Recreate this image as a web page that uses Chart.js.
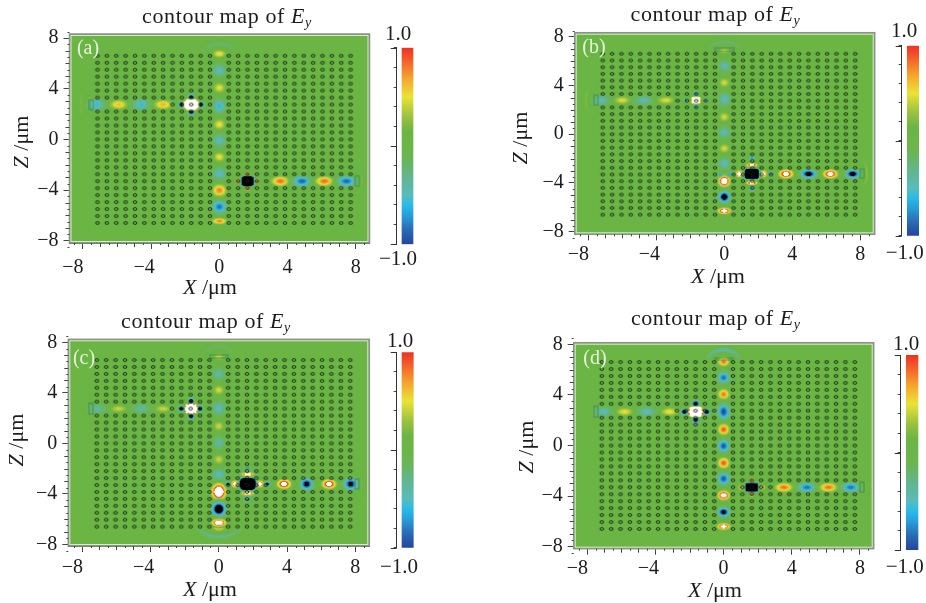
<!DOCTYPE html>
<html>
<head>
<meta charset="utf-8">
<style>
  html, body { margin: 0; padding: 0; background: #fff; }
  #page { position: relative; width: 926px; height: 603px; overflow: hidden; font-family: "Liberation Serif", serif; color: #1c1c1c; }
  canvas { position: absolute; left: 0; top: 0; filter: blur(0.3px); }
  .label { position: absolute; transform: translate(-50%, -50%); white-space: nowrap; line-height: 1; }
  .title { font-size: 22px; letter-spacing: 0.6px; }
  .axis { font-size: 22px; }
  .axisz { transform: translate(-50%, -50%) rotate(-90deg); }
  .range { font-size: 21px; }
  .tag { font-size: 20px; color: #e9f3df; }
  sub { font-size: 14px; line-height: 0; vertical-align: -4px; }
</style>
</head>
<body>
<div id="page"></div>
<script src="https://cdn.jsdelivr.net/npm/chart.js@4/dist/chart.umd.min.js"></script>
<script>
// air hole lattice, um
const holeColumns = [-7.15, -6.6, -6.05, -5.5, -4.95, -4.4, -3.85, -3.3, -2.75, -2.2, -1.65, -1.1, -0.55, 0.55, 1.1, 1.65, 2.2, 2.75, 3.3, 3.85, 4.4, 4.95, 5.5, 6.05, 6.6, 7.15, 7.7];
const holeRows = [6.6, 6.05, 5.5, 4.95, 4.4, 3.85, 3.3, 2.75, 2.2, 1.65, 1.1, 0.55, 0, -0.55, -1.1, -1.65, -2.2, -2.75, -3.3, -3.85, -4.4, -4.95, -5.5, -6.05, -6.6];

const majorTicks = [-8, -4, 0, 4, 8];
const axisOneTicks = [-7, -6, -5, -3, -2, -1, 1, 2, 3, 5, 6, 7];
const axisHalfTicks = [-8.5, -7.5, -6.5, -5.5, -4.5, -3.5, -2.5, -1.5, -0.5, 0.5, 1.5, 2.5, 3.5, 4.5, 5.5, 6.5, 7.5, 8.5];

// colour scale of Ey
const scaleValues = [-1, -0.85, -0.7, -0.6, -0.5, -0.3, -0.1, 0.15, 0.3, 0.5, 0.7, 0.85, 1];
const scaleColors = ['#24459c', '#2a6cb3', '#27a0dc', '#2bbbe8', '#58bcbc', '#63b58a', '#6bb54e', '#6cb543', '#9cc23f', '#e9e336', '#f6a02c', '#f3662a', '#ee3124'];

// panel (a) field spots
const aSpotX = [-7.18, -5.9, -4.58, -3.3, -2.2, -1.1, -1.65, -1.65, -1.65, 0, 0, 0, 0, 0, 0, 0, 0, 0, 0, 0, 1.08, 2.21, 1.66, 1.66, 1.66, 3.58, 4.85, 6.16, 7.46];
const aSpotZ = [2.75, 2.75, 2.75, 2.75, 2.75, 2.75, 3.3, 2.2, 2.75, 6.76, 5.45, 4.08, 2.63, 1.18, -0.08, -1.39, -2.71, -4.03, -5.32, -6.45, -3.3, -3.3, -2.74, -3.89, -3.3, -3.3, -3.3, -3.3, -3.3];
const aSpotAmp = [-0.6, 0.62, -0.6, 0.65, -1.6, -1.6, -1.6, -1.6, 6, 0.55, -0.52, 0.5, -0.62, 0.52, -0.5, 0.5, -0.53, 0.8, -0.85, 0.8, 1.1, 1.1, 1.1, 1.1, -6, 0.85, -0.9, 0.85, -0.9];
const aSpotRx = [0.36, 0.36, 0.36, 0.36, 0.12, 0.12, 0.12, 0.12, 0.34, 0.26, 0.26, 0.24, 0.24, 0.24, 0.26, 0.24, 0.27, 0.27, 0.27, 0.28, 0.08, 0.08, 0.09, 0.09, 0.31, 0.34, 0.34, 0.34, 0.34];
const aSpotRz = [0.24, 0.22, 0.24, 0.22, 0.12, 0.12, 0.13, 0.13, 0.34, 0.18, 0.28, 0.24, 0.32, 0.26, 0.3, 0.24, 0.28, 0.28, 0.28, 0.14, 0.08, 0.08, 0.08, 0.08, 0.33, 0.22, 0.22, 0.22, 0.22];
const aArcX = [0, -7.3, 7.8];
const aArcZ = [6.7, 2.75, -3.3];
const aArcAmp = [-0.25, 0.2, 0.2];
const aArcRx = [0.92, 0.85, 0.6];
const aArcRz = [0.85, 1.4, 1];
const aArcDir = [90, 180, 0];
const aPortX = [-7.5, 8.1];
const aPortZ = [2.75, -3.3];
const aPortW = [0.2, 0.2];
const aPortH = [0.75, 0.75];

// panel (b)
const bSpotX = [-7.2, -6, -4.75, -3.43, -2.25, -1.1, -1.67, -1.67, -1.67, 0, 0, 0, 0, 0, 0, 0, 0, 0, 0, 0, -0.25, 0.25, 0.55, 2.75, 1.62, 1.62, 0.88, 2.3, 1.62, 1.62, 1.62, 3.63, 4.96, 6.24, 7.55];
const bSpotZ = [2.79, 2.79, 2.79, 2.79, 2.79, 2.79, 3.35, 2.25, 2.79, 6.88, 5.6, 4.23, 2.87, 1.42, 0.14, -1.17, -2.4, -3.85, -5.14, -6.28, -3.3, -3.3, -3.25, -3.25, -1.95, -4.5, -3.25, -3.25, -2.54, -3.99, -3.25, -3.25, -3.25, -3.25, -3.25];
const bSpotAmp = [-0.5, 0.47, -0.48, 0.47, -0.9, -0.9, -0.9, -0.9, 3, 0.4, -0.48, 0.45, -0.5, 0.45, -0.47, 0.45, -0.5, 1.6, -1.3, 1.5, -0.8, -0.8, -0.9, -0.9, -0.8, -0.8, 1.4, 1.4, 1.4, 1.4, -6, 1.3, -1.25, 1.3, -1.25];
const bSpotRx = [0.36, 0.36, 0.36, 0.36, 0.08, 0.08, 0.08, 0.08, 0.24, 0.26, 0.24, 0.22, 0.24, 0.22, 0.24, 0.22, 0.24, 0.2, 0.21, 0.22, 0.08, 0.08, 0.08, 0.08, 0.1, 0.1, 0.12, 0.12, 0.19, 0.19, 0.36, 0.26, 0.28, 0.26, 0.26];
const bSpotRz = [0.22, 0.2, 0.22, 0.2, 0.08, 0.08, 0.09, 0.09, 0.24, 0.16, 0.26, 0.24, 0.32, 0.24, 0.28, 0.24, 0.28, 0.24, 0.26, 0.13, 0.08, 0.08, 0.08, 0.08, 0.1, 0.1, 0.14, 0.14, 0.08, 0.08, 0.37, 0.19, 0.19, 0.19, 0.19];
const bArcX = [0, -7.4, 7.9];
const bArcZ = [6.7, 2.79, -3.25];
const bArcAmp = [-0.25, 0.22, 0.28];
const bArcRx = [1, 0.75, 0.5];
const bArcRz = [0.87, 1.3, 1.2];
const bArcDir = [90, 180, 0];
const bPortX = [-7.55, 8.12, 0];
const bPortZ = [2.79, -3.25, 6.92];
const bPortW = [0.2, 0.2, 1.1];
const bPortH = [0.8, 0.7, 0.18];

// panel (c)
const cSpotX = [-7.1, -5.87, -4.54, -3.27, -2.2, -1.1, -1.62, -1.62, -1.62, 0, 0, 0, 0, 0, 0, 0, 0, 0, 0, 0, 0, 1.69, 1.69, 0.55, 2.84, 1.69, 1.69, 0.94, 2.4, 1.69, 1.69, 1.69, 3.82, 5.15, 6.46, 7.73];
const cSpotZ = [2.74, 2.74, 2.74, 2.74, 2.74, 2.74, 3.35, 2.15, 2.74, 6.86, 5.49, 4.22, 2.77, 1.37, 0.05, -1.27, -2.5, -6.65, -3.83, -5.2, -6.28, -2.06, -4.4, -3.22, -3.22, -2.45, -3.96, -3.22, -3.22, -2.45, -3.96, -3.22, -3.22, -3.22, -3.22, -3.22];
const cSpotAmp = [-0.42, 0.42, -0.42, 0.42, -1.6, -1.6, -1.6, -1.6, 6, 0.42, -0.45, 0.45, -0.5, 0.42, -0.45, 0.42, -0.52, 0.7, 1.9, -1.7, 1.6, -1.6, -1.6, -1.6, -1.6, -0.7, -0.7, 1.5, 1.5, 1.5, 1.5, -6, 1.3, -1.25, 1.3, -1.2];
const cSpotRx = [0.36, 0.36, 0.36, 0.36, 0.11, 0.11, 0.11, 0.11, 0.28, 0.26, 0.24, 0.22, 0.25, 0.22, 0.24, 0.22, 0.25, 0.24, 0.24, 0.23, 0.24, 0.13, 0.13, 0.09, 0.09, 0.3, 0.3, 0.12, 0.12, 0.21, 0.21, 0.39, 0.25, 0.22, 0.25, 0.24];
const cSpotRz = [0.2, 0.18, 0.2, 0.18, 0.11, 0.11, 0.12, 0.12, 0.31, 0.16, 0.26, 0.24, 0.32, 0.24, 0.27, 0.24, 0.28, 0.16, 0.32, 0.28, 0.15, 0.1, 0.1, 0.09, 0.09, 0.2, 0.2, 0.14, 0.14, 0.08, 0.08, 0.4, 0.2, 0.24, 0.2, 0.24];
const cArcX = [0, 0, -7.4, 7.9];
const cArcZ = [6.7, -6.3, 2.74, -3.22];
const cArcAmp = [-0.2, -0.3, 0.12, 0.2];
const cArcRx = [0.95, 1.3, 0.7, 0.5];
const cArcRz = [0.95, 1.1, 1.2, 1.1];
const cArcDir = [90, 270, 180, 0];
const cPortX = [-7.5, 8.1, 0];
const cPortZ = [2.74, -3.22, 6.88];
const cPortW = [0.2, 0.2, 1];
const cPortH = [0.8, 0.75, 0.18];

// panel (d)
const dSpotX = [-7.03, -5.81, -4.5, -3.17, -2.3, -1.0, -1.64, -1.64, -1.64, 0, 0, 0, 0, 0, 0, 0, 0, 0, 0, 0, 1.0, 2.3, 1.65, 1.65, 1.65, 3.54, 4.89, 6.16, 7.46];
const dSpotZ = [2.67, 2.67, 2.67, 2.67, 2.67, 2.67, 3.3, 2.05, 2.67, 6.64, 5.37, 4.05, 2.67, 1.27, -0.03, -1.38, -2.62, -3.94, -5.26, -6.4, -3.31, -3.31, -2.72, -3.9, -3.31, -3.31, -3.31, -3.31, -3.31];
const dSpotAmp = [-0.5, 0.5, -0.5, 0.52, -1.7, -1.7, -1.7, -1.7, 6, 0.85, -0.88, 0.82, -1, 0.9, -0.95, 0.9, -0.95, 1.4, -1.25, 1.4, 1.1, 1.1, 1.1, 1.1, -6, 0.85, -0.85, 0.85, -0.85];
const dSpotRx = [0.36, 0.36, 0.36, 0.36, 0.12, 0.12, 0.12, 0.12, 0.33, 0.22, 0.22, 0.22, 0.22, 0.22, 0.22, 0.22, 0.22, 0.21, 0.21, 0.22, 0.08, 0.08, 0.08, 0.08, 0.32, 0.34, 0.34, 0.34, 0.34];
const dSpotRz = [0.22, 0.2, 0.22, 0.2, 0.12, 0.12, 0.14, 0.14, 0.33, 0.21, 0.24, 0.24, 0.34, 0.25, 0.27, 0.25, 0.27, 0.19, 0.2, 0.13, 0.08, 0.08, 0.08, 0.08, 0.3, 0.2, 0.2, 0.2, 0.2];
const dArcX = [0, -7.4, 7.9];
const dArcZ = [6.6, 2.67, -3.31];
const dArcAmp = [-0.45, 0.15, 0.2];
const dArcRx = [1, 0.6, 0.5];
const dArcRz = [0.95, 1.1, 1.1];
const dArcDir = [90, 180, 0];
const dPortX = [-7.5, 8.12, 0];
const dPortZ = [2.67, -3.31, 6.85];
const dPortW = [0.2, 0.2, 1];
const dPortH = [0.8, 0.75, 0.14];

const panels = [
  { tag: '(a)', spots: [aSpotX, aSpotZ, aSpotAmp, aSpotRx, aSpotRz], arcs: [aArcX, aArcZ, aArcAmp, aArcRx, aArcRz, aArcDir], ports: [aPortX, aPortZ, aPortW, aPortH],
    box: [69.5, 34, 369.5, 243], limits: [-8.79, 8.81, -8.18, 8.32], bar: [402, 413, 396.7, 47.7, 244.3], tickPad: 7,
    title: [227, 16], xLabel: [210, 287], zLabel: [21, 142], high: [398, 33], low: [398, 258], tagAt: [88, 47] },
  { tag: '(b)', spots: [bSpotX, bSpotZ, bSpotAmp, bSpotRx, bSpotRz], arcs: [bArcX, bArcZ, bArcAmp, bArcRx, bArcRz, bArcDir], ports: [bPortX, bPortZ, bPortW, bPortH],
    box: [574.7, 32.7, 874.7, 234.3], limits: [-8.8, 8.85, -8.21, 8.33], bar: [907.3, 918.7, 901.7, 45.7, 235.7], tickPad: 2.5,
    title: [715.5, 14], xLabel: [718, 276], zLabel: [520, 138], high: [904, 30], low: [904.7, 252], tagAt: [594, 46] },
  { tag: '(c)', spots: [cSpotX, cSpotZ, cSpotAmp, cSpotRx, cSpotRz], arcs: [cArcX, cArcZ, cArcAmp, cArcRx, cArcRz, cArcDir], ports: [cPortX, cPortZ, cPortW, cPortH],
    box: [68.3, 339.3, 369.3, 546], limits: [-8.82, 8.82, -8.13, 8.24], bar: [402, 413.3, 396.7, 352.3, 547.7], tickPad: 4,
    title: [206, 320.7], xLabel: [210, 589], zLabel: [16, 440], high: [400, 340], low: [399, 566], tagAt: [84, 356.7] },
  { tag: '(d)', spots: [dSpotX, dSpotZ, dSpotAmp, dSpotRx, dSpotRz], arcs: [dArcX, dArcZ, dArcAmp, dArcRx, dArcRz, dArcDir], ports: [dPortX, dPortZ, dPortW, dPortH],
    box: [573.7, 342.7, 873.7, 548.7], limits: [-8.8, 8.81, -8.16, 8.13], bar: [906.3, 918, 900.7, 355, 550], tickPad: 2.5,
    title: [715.8, 318], xLabel: [715, 590], zLabel: [525.7, 447], high: [906, 342.7], low: [904.7, 566], tagAt: [595, 356.7] },
];

const W = 926;
const H = 603;
// room kept for the tick labels, the library clips them to the scale box
const X_BAND = 34;
const Y_BAND = 50;
const page = document.getElementById('page');
const rgbStops = scaleColors.map((c) => [1, 3, 5].map((i) => parseInt(c.substr(i, 2), 16)));

// over the range the plot saturates: white above 1, black below -1
function fieldColor(v) {
  if (v > 1) return [255, 255, 255];
  if (v < -1) return [0, 0, 0];
  let i = 0;
  while (i < scaleValues.length - 2 && v > scaleValues[i + 1]) i++;
  const t = (v - scaleValues[i]) / (scaleValues[i + 1] - scaleValues[i]);
  return rgbStops[i].map((c, k) => c + (rgbStops[i + 1][k] - c) * t);
}

function pixelsPerUm(chart) {
  const { x, y } = chart.scales;
  return [Math.abs(x.getPixelForValue(1) - x.getPixelForValue(0)), Math.abs(y.getPixelForValue(1) - y.getPixelForValue(0))];
}

function paintSprite(halfW, halfH, valueAt) {
  const sprite = document.createElement('canvas');
  sprite.width = halfW * 2;
  sprite.height = halfH * 2;
  const c = sprite.getContext('2d');
  const img = c.createImageData(sprite.width, sprite.height);
  for (let j = 0; j < sprite.height; j++) {
    for (let i = 0; i < sprite.width; i++) {
      const v = valueAt(i + 0.5 - halfW, halfH - j - 0.5);
      const rgb = fieldColor(v);
      const p = (j * sprite.width + i) * 4;
      img.data[p] = rgb[0];
      img.data[p + 1] = rgb[1];
      img.data[p + 2] = rgb[2];
      img.data[p + 3] = 255 * Math.min(1, Math.abs(v) / 0.1);
    }
  }
  c.putImageData(img, 0, 0);
  return sprite;
}

function spotSprite(chart, amp, rx, rz) {
  const [sx, sz] = pixelsPerUm(chart);
  const strong = Math.abs(amp) >= 3;
  const spreadX = strong ? 1 : 1.4;
  const spreadZ = strong ? 1 : 1.6;
  const reach = Math.sqrt(Math.log(Math.abs(amp) / 0.02)) + 0.3;
  return paintSprite(Math.ceil(reach * rx * spreadX * sx), Math.ceil(reach * rz * spreadZ * sz), (px, pz) => {
    const dx = px / (rx * spreadX * sx);
    const dz = pz / (rz * spreadZ * sz);
    // the cavity cores are boxes, not round
    const r = strong ? dx ** 4 + dz ** 4 : dx * dx + dz * dz;
    return amp * Math.exp(-r);
  });
}

function arcSprite(chart, amp, rx, rz, dir) {
  const [sx, sz] = pixelsPerUm(chart);
  const aim = (dir * Math.PI) / 180;
  return paintSprite(Math.ceil(1.5 * rx * sx), Math.ceil(1.5 * rz * sz), (px, pz) => {
    const dx = px / (rx * sx);
    const dz = pz / (rz * sz);
    const r = Math.sqrt(dx * dx + dz * dz);
    const weight = Math.max(0, Math.cos(Math.atan2(dz, dx) - aim));
    return amp * weight * Math.exp(-(((r - 1) / 0.16) ** 2));
  });
}

function holeSprite(chart) {
  const [sx, sz] = pixelsPerUm(chart);
  const sprite = document.createElement('canvas');
  sprite.width = 8;
  sprite.height = 6;
  const c = sprite.getContext('2d');
  c.strokeStyle = 'rgba(20,32,20,0.95)';
  c.lineWidth = 0.9;
  c.beginPath();
  c.ellipse(4, 3, 0.11 * sx, 0.11 * sz, 0, 0, Math.PI * 2);
  c.stroke();
  return sprite;
}

function portSprite(chart, w, h) {
  const [sx, sz] = pixelsPerUm(chart);
  const sprite = document.createElement('canvas');
  sprite.width = Math.ceil(w * sx) + 2;
  sprite.height = Math.ceil(h * sz) + 2;
  const c = sprite.getContext('2d');
  c.strokeStyle = 'rgba(45,125,100,0.65)';
  c.lineWidth = 1;
  c.strokeRect(1, 1, sprite.width - 2, sprite.height - 2);
  return sprite;
}

// options get resolved once before the scales have a size, so wait for that
function cached(store, key, ctx, build) {
  if (ctx.dataIndex === undefined) return 'circle';
  const [sx, sz] = pixelsPerUm(ctx.chart);
  if (!(sx > 0) || !(sz > 0)) return 'circle';
  if (!store[key]) store[key] = build();
  return store[key];
}

function zip(xs, zs) {
  return xs.map((x, i) => ({ x: x, y: zs[i] }));
}

function holePoints() {
  const pts = [];
  holeRows.forEach((z) => {
    holeColumns.forEach((x) => {
      // the two waveguide arms have no holes
      if (z === 2.75 && x <= -3.3) return;
      if (z === -3.3 && x >= 3.3) return;
      pts.push({ x: x, y: z });
    });
  });
  return pts;
}

const minorTicks = {
  id: 'minorTicks',
  afterDraw(chart, args, opts) {
    const c = chart.ctx;
    const area = chart.chartArea;
    c.save();
    c.strokeStyle = '#444';
    c.lineWidth = 1;
    (opts.sets || []).forEach(([values, len]) => {
      values.forEach((v) => {
        const px = Math.round(chart.scales.x.getPixelForValue(v)) + 0.5;
        const py = Math.round(chart.scales.y.getPixelForValue(v)) + 0.5;
        c.beginPath();
        c.moveTo(px, area.bottom);
        c.lineTo(px, area.bottom + len);
        c.moveTo(area.left, py);
        c.lineTo(area.left - len, py);
        c.stroke();
      });
    });
    c.restore();
  },
};

const plotFrame = {
  id: 'plotFrame',
  beforeDatasetsDraw(chart) {
    const a = chart.chartArea;
    chart.ctx.fillStyle = '#6ab544';
    chart.ctx.fillRect(a.left, a.top, a.width, a.height);
  },
  afterDatasetsDraw(chart) {
    const a = chart.ctx;
    const r = chart.chartArea;
    a.strokeStyle = '#8f8f8f';
    a.lineWidth = 1.5;
    a.strokeRect(r.left, r.top, r.width, r.height);
    a.strokeStyle = 'rgba(255,255,255,0.75)';
    a.lineWidth = 1;
    a.strokeRect(r.left + 1.5, r.top + 1.5, r.width - 3, r.height - 3);
  },
};

function tickLabel(v) {
  return v < 0 ? '\u2212' + Math.abs(v) : String(v);
}

// negative x labels sit to the left of their tick in the original
function xTickLabel(v) {
  if (v === -8) return tickLabel(v) + '\u2002\u2002';
  if (v === -4) return tickLabel(v) + '\u2002\u2009';
  return tickLabel(v);
}

function addCanvas() {
  const canvas = document.createElement('canvas');
  canvas.width = W;
  canvas.height = H;
  page.appendChild(canvas);
  return canvas;
}

function drawPanel(panel) {
  const [left, top, right, bottom] = panel.box;
  const [xMin, xMax, zMin, zMax] = panel.limits;
  const [spotX, spotZ, spotAmp, spotRx, spotRz] = panel.spots;
  const [arcX, arcZ, arcAmp, arcRx, arcRz, arcDir] = panel.arcs;
  const [portX, portZ, portW, portH] = panel.ports;
  const sprites = {};
  const tickFont = { family: '"Liberation Serif", serif', size: 20 };

  new Chart(addCanvas(), {
    type: 'scatter',
    data: {
      datasets: [
        { label: 'air holes', data: holePoints(), order: 0, pointRadius: 2,
          pointStyle: (ctx) => cached(sprites, 'hole', ctx, () => holeSprite(ctx.chart)) },
        { label: 'ports', data: zip(portX, portZ), order: 1, pointRadius: 2,
          pointStyle: (ctx) => cached(sprites, 'port' + ctx.dataIndex, ctx, () => portSprite(ctx.chart, portW[ctx.dataIndex], portH[ctx.dataIndex])) },
        { label: 'Ey', data: zip(spotX, spotZ), order: 2, pointRadius: 2,
          pointStyle: (ctx) => cached(sprites, 'spot' + ctx.dataIndex, ctx, () => spotSprite(ctx.chart, spotAmp[ctx.dataIndex], spotRx[ctx.dataIndex], spotRz[ctx.dataIndex])) },
        { label: 'radiation', data: zip(arcX, arcZ), order: 3, pointRadius: 2,
          pointStyle: (ctx) => cached(sprites, 'arc' + ctx.dataIndex, ctx, () => arcSprite(ctx.chart, arcAmp[ctx.dataIndex], arcRx[ctx.dataIndex], arcRz[ctx.dataIndex], arcDir[ctx.dataIndex])) },
      ],
    },
    plugins: [plotFrame, minorTicks],
    options: {
      responsive: false,
      animation: false,
      events: [],
      layout: { autoPadding: false, padding: { left: left - Y_BAND, top: top, right: W - right, bottom: H - bottom - X_BAND } },
      plugins: {
        legend: { display: false },
        tooltip: { enabled: false },
        minorTicks: { sets: [[axisOneTicks, 4], [axisHalfTicks, 2]] },
      },
      scales: {
        x: {
          type: 'linear', min: xMin, max: xMax,
          afterFit: (s) => { s.height = X_BAND; },
          grid: { drawOnChartArea: false, tickLength: 6, tickColor: '#444' },
          border: { color: '#444' },
          ticks: {
            stepSize: 4, includeBounds: false, maxRotation: 0, autoSkip: false, padding: panel.tickPad, color: '#1c1c1c', font: tickFont,
            callback: xTickLabel,
          },
        },
        y: {
          type: 'linear', min: zMin, max: zMax,
          afterFit: (s) => { s.width = Y_BAND; },
          grid: { drawOnChartArea: false, tickLength: 6, tickColor: '#444' },
          border: { color: '#444' },
          ticks: { stepSize: 4, includeBounds: false, autoSkip: false, padding: 5, color: '#1c1c1c', font: tickFont, callback: tickLabel },
        },
      },
    },
  });

  const [barLeft, barRight, axisX, barTop, barBottom] = panel.bar;
  const barCenter = (barLeft + barRight) / 2;
  new Chart(addCanvas(), {
    type: 'bar',
    data: {
      labels: ['Ey'],
      datasets: [{
        data: [[-1, 1]],
        barThickness: barRight - barLeft,
        backgroundColor: (ctx) => {
          const y = ctx.chart.scales.y;
          const low = y ? y.getPixelForValue(-1) : NaN;
          const high = y ? y.getPixelForValue(1) : NaN;
          if (!Number.isFinite(low) || !Number.isFinite(high)) return scaleColors[0];
          const g = ctx.chart.ctx.createLinearGradient(0, low, 0, high);
          scaleValues.forEach((v, i) => g.addColorStop((v + 1) / 2, scaleColors[i]));
          return g;
        },
      }],
    },
    plugins: [{
      id: 'colorbarLongTicks',
      afterDraw(chart) {
        const c = chart.ctx;
        c.strokeStyle = '#333';
        c.lineWidth = 1;
        [-1, 0, 1].forEach((v) => {
          const py = Math.round(chart.scales.y.getPixelForValue(v)) + 0.5;
          c.beginPath();
          c.moveTo(chart.chartArea.left, py);
          c.lineTo(chart.chartArea.left - 6, py);
          c.stroke();
        });
      },
    }],
    options: {
      responsive: false,
      animation: false,
      events: [],
      layout: { autoPadding: false, padding: { left: axisX, top: barTop, right: W - (2 * barCenter - axisX), bottom: H - barBottom } },
      plugins: { legend: { display: false }, tooltip: { enabled: false } },
      scales: {
        x: { display: false },
        y: {
          min: -1, max: 1,
          afterFit: (s) => { s.width = 0; },
          grid: { drawOnChartArea: false, tickLength: 3, tickColor: '#444' },
          border: { color: '#333' },
          ticks: { stepSize: 0.2, display: false },
        },
      },
    },
  });

  addLabel('title', panel.title, 'contour map of <i>E<sub>y</sub></i>');
  addLabel('axis', panel.xLabel, '<i>X</i> /\u03bcm');
  addLabel('axis axisz', panel.zLabel, '<i>Z</i> /\u03bcm');
  addLabel('range', panel.high, '1.0');
  addLabel('range', panel.low, '\u22121.0');
  addLabel('tag', panel.tagAt, panel.tag);
}

function addLabel(cls, at, html) {
  const el = document.createElement('div');
  el.className = 'label ' + cls;
  el.style.left = at[0] + 'px';
  el.style.top = at[1] + 'px';
  el.innerHTML = html;
  el.style.zIndex = 5;
  page.appendChild(el);
}

panels.forEach(drawPanel);
</script>
</body>
</html>
